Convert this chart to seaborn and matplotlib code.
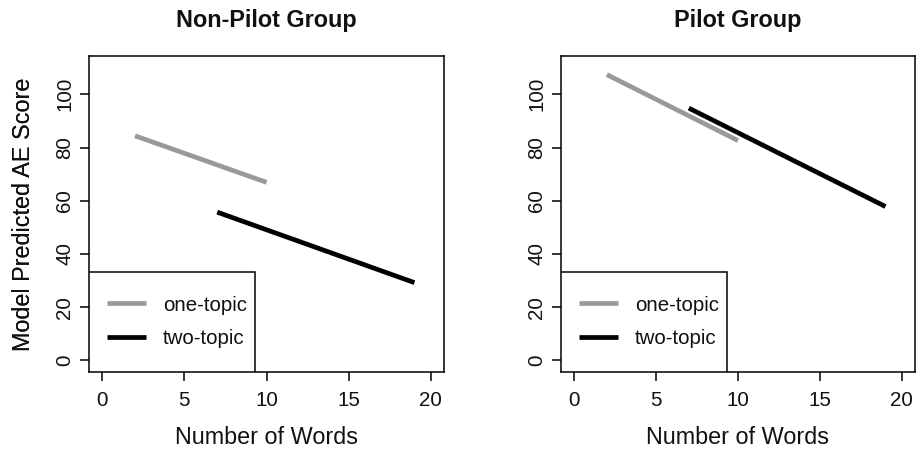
import matplotlib
matplotlib.use("Agg")
import matplotlib.pyplot as plt
from matplotlib.patches import Rectangle
import numpy as np
import pandas as pd
import seaborn as sns

# Model predictions: endpoints of each fitted line
groups = ["Non-Pilot Group", "Pilot Group"]
topics = ["one-topic", "two-topic"]
words_one = [2, 10]
words_two = [7, 19]
nonpilot_one = [84.4, 66.9]
nonpilot_two = [55.7, 29.2]
pilot_one = [107.4, 82.6]
pilot_two = [94.8, 57.8]

x_ticks = [0, 5, 10, 15, 20]
y_ticks = [0, 20, 40, 60, 80, 100]

rows = []
for g, one, two in zip(groups, [nonpilot_one, pilot_one], [nonpilot_two, pilot_two]):
    for w, s in zip(words_one, one):
        rows.append((g, "one-topic", w, s))
    for w, s in zip(words_two, two):
        rows.append((g, "two-topic", w, s))
df = pd.DataFrame(rows, columns=["group", "topic", "words", "score"])

sns.set_style("white")
plt.rcParams["font.family"] = ["Liberation Sans", "DejaVu Sans"]

palette = {"one-topic": "#999999", "two-topic": "#000000"}

fig = plt.figure(figsize=(9.17, 4.51), dpi=100)
W, H = 917, 451
axes_px = [(89, 56, 444, 372), (561, 56, 915, 372)]

for (x0, y0, x1, y1), g in zip(axes_px, groups):
    ax = fig.add_axes([x0 / W, (H - y1) / H, (x1 - x0) / W, (y1 - y0) / H])
    sub = df[df["group"] == g]
    sns.lineplot(data=sub, x="words", y="score", hue="topic", hue_order=topics,
                 palette=palette, linewidth=3.4, estimator=None, sort=False,
                 legend=False, ax=ax)
    for ln in ax.get_lines():
        ln.set_solid_capstyle("butt")

    ax.set_xlim(-0.8, 20.8)
    ax.set_ylim(-4.4, 114.4)
    ax.set_xticks(x_ticks)
    ax.set_yticks(y_ticks)
    ax.tick_params(axis="both", direction="out", length=6.5, width=1.1,
                   color="black", labelsize=14.8, labelcolor="#111111",
                   bottom=True, left=True)
    ax.tick_params(axis="x", pad=7)
    ax.tick_params(axis="y", pad=4, labelrotation=90)
    for lab in ax.get_yticklabels():
        lab.set_va("center")
    for sp in ax.spines.values():
        sp.set_visible(True)
        sp.set_color("black")
        sp.set_linewidth(1.1)

    ax.set_xlabel("Number of Words", fontsize=16.8, color="#111111")
    ax.set_ylabel("Model Predicted AE Score", fontsize=16.8, color="#111111")
    ax.xaxis.label.set_va("center")
    ax.yaxis.label.set_va("center")
    ax.xaxis.set_label_coords(0.5, (y1 - 437) / (y1 - y0))
    ax.yaxis.set_label_coords((24 - x0) / (x1 - x0), 0.5)
    ax.set_title(g, fontsize=16.8, fontweight="bold", y=(y1 - 20) / (y1 - y0),
                 va="center", pad=0, color="#111111")

    # legend frame in the lower-left corner
    ax.add_patch(Rectangle((0, 0), (255 - 89) / 355, (372 - 272) / 316,
                           transform=ax.transAxes, facecolor="white",
                           edgecolor="black", linewidth=1.1, zorder=4))
    leg = ax.legend(ax.get_lines(), topics, loc="center left",
                    bbox_to_anchor=((106.7 - 89) / 355, (372 - 322) / 316),
                    frameon=False, fontsize=14.8, borderpad=0, borderaxespad=0,
                    handlelength=1.9, handletextpad=0.85, labelspacing=0.72)
    leg.set_zorder(5)
    for t in leg.get_texts():
        t.set_color("#111111")

fig.savefig("out.png", dpi=100)
